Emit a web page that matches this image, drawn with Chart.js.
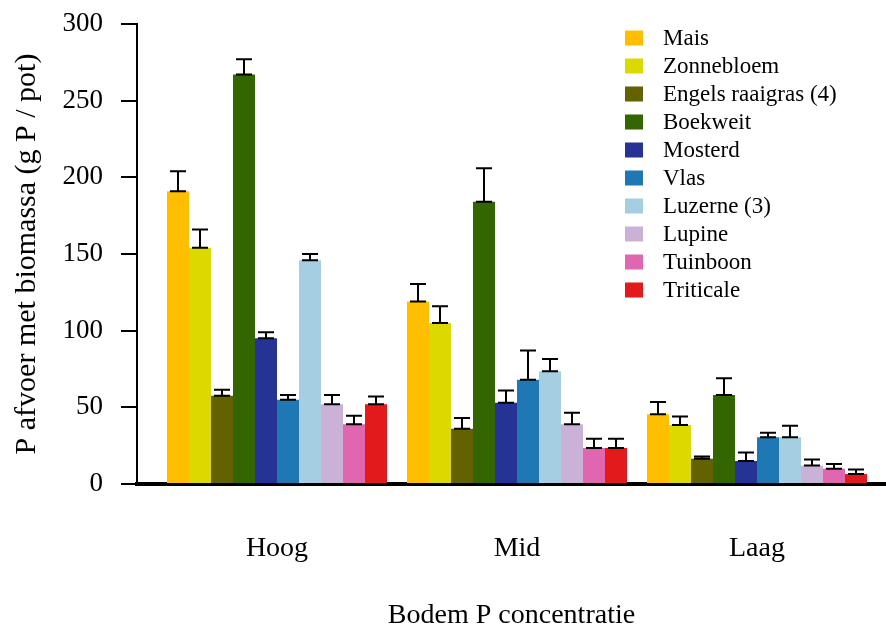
<!DOCTYPE html>
<html>
<head>
<meta charset="utf-8">
<script src="https://cdn.jsdelivr.net/npm/chart.js@4.4.1/dist/chart.umd.min.js"></script>
<style>
  html, body { margin: 0; padding: 0; background: #fff; }
  canvas { display: block; }
</style>
</head>
<body>
<canvas id="myChart" width="886" height="628"></canvas>
<script>
const categories = ["Hoog", "Mid", "Laag"];
const seriesNames = ["Mais", "Zonnebloem", "Engels raaigras (4)", "Boekweit", "Mosterd",
  "Vlas", "Luzerne (3)", "Lupine", "Tuinboon", "Triticale"];

// waarden per bodem P niveau, zelfde volgorde als seriesNames
const hoogValues = [191, 154, 57.5, 267, 95, 55, 146, 52, 39, 52];
const hoogErrors = [13, 12, 4, 10, 4, 3, 4, 6, 5.5, 5];
const midValues = [119, 105, 36, 184, 53, 68, 73.5, 39, 23.5, 23.5];
const midErrors = [11.5, 11, 7, 22, 8, 19, 8, 7.5, 6, 6];
const laagValues = [45.5, 38.5, 16.5, 58, 15, 30.5, 30.5, 12, 10, 6.5];
const laagErrors = [8, 5.5, 1.5, 11, 5.5, 3, 7.5, 4, 3, 3];

const yTicks = [0, 50, 100, 150, 200, 250, 300];

const seriesColors = ["#FFBF00", "#DBD900", "#626200", "#336600", "#253494",
  "#1F78B4", "#A6CEE3", "#CAB2D6", "#E066B0", "#E31A1C"];

const fontFamily = "'Liberation Serif', 'Times New Roman', serif";
Chart.defaults.color = "#000";
Chart.defaults.font.family = fontFamily;

const datasets = seriesNames.map((name, i) => {
  const vals = [hoogValues[i], midValues[i], laagValues[i]];
  return {
    label: name,
    backgroundColor: seriesColors[i],
    borderWidth: 0,
    data: vals.map((v, k) => ({ x: k, y: v })),
    errors: [hoogErrors[i], midErrors[i], laagErrors[i]],
  };
});

// foutbalken boven de staven
const errorBars = {
  id: "errorBars",
  afterDatasetsDraw(chart) {
    const ctx = chart.ctx;
    const yScale = chart.scales.y;
    ctx.save();
    ctx.strokeStyle = "#000";
    ctx.lineWidth = 2;
    chart.data.datasets.forEach((ds, i) => {
      const meta = chart.getDatasetMeta(i);
      meta.data.forEach((bar, j) => {
        const top = yScale.getPixelForValue(ds.data[j].y + ds.errors[j]);
        const half = 8;
        ctx.beginPath();
        ctx.moveTo(bar.x, bar.y);
        ctx.lineTo(bar.x, top);
        ctx.moveTo(bar.x - half, top);
        ctx.lineTo(bar.x + half, top);
        ctx.moveTo(bar.x - half, bar.y);
        ctx.lineTo(bar.x + half, bar.y);
        ctx.stroke();
      });
    });
    ctx.restore();
  },
};

// legenda rechtsboven in de grafiek
const sideLegend = {
  id: "sideLegend",
  afterDraw(chart) {
    const ctx = chart.ctx;
    const boxX = 625, textX = 663, startY = 38, rowH = 28;
    ctx.save();
    ctx.font = "23px " + fontFamily;
    ctx.textBaseline = "middle";
    ctx.textAlign = "left";
    chart.data.datasets.forEach((ds, i) => {
      const cy = startY + i * rowH;
      ctx.fillStyle = ds.backgroundColor;
      ctx.fillRect(boxX, cy - 7.5, 18, 15);
      ctx.fillStyle = "#000";
      ctx.fillText(ds.label, textX, cy + 1);
    });
    ctx.restore();
  },
};

const ctx = document.getElementById("myChart").getContext("2d");
const myChart = new Chart(ctx, {
  type: "bar",
  data: { datasets: datasets },
  plugins: [errorBars, sideLegend],
  options: {
    responsive: false,
    animation: false,
    devicePixelRatio: 1,
    categoryPercentage: 220 / 240,
    barPercentage: 1,
    layout: { padding: { top: 24, right: 0, bottom: 0, left: 0 } },
    plugins: {
      legend: { display: false },
      tooltip: { enabled: false },
    },
    scales: {
      x: {
        type: "linear",
        offset: false,
        min: -140 / 240,
        max: 609 / 240,
        afterFit: (scale) => {
          scale.height = 144;
          scale.paddingLeft = 0;
          scale.paddingRight = 0;
        },
        grid: { display: false, drawTicks: false },
        border: { display: true, color: "#000", width: 4 },
        ticks: {
          stepSize: 1,
          includeBounds: false,
          maxRotation: 0,
          autoSkip: false,
          padding: 51,
          font: { size: 28, lineHeight: 1 },
          callback: (v) => categories[v] ?? "",
        },
        title: {
          display: true,
          text: "Bodem P concentratie",
          font: { size: 28, lineHeight: 1 },
          padding: { top: 0, bottom: -2 },
        },
      },
      y: {
        min: 0,
        max: 300,
        afterFit: (scale) => {
          scale.width = 137;
          scale.paddingTop = 0;
          scale.paddingBottom = 0;
        },
        afterBuildTicks: (scale) => { scale.ticks = yTicks.map((v) => ({ value: v })); },
        grid: {
          drawOnChartArea: false,
          drawTicks: true,
          tickLength: 16,
          color: "#000",
          lineWidth: 2,
        },
        border: { display: true, color: "#000", width: 2 },
        ticks: {
          padding: 18,
          font: { size: 27, lineHeight: 1 },
        },
        title: {
          display: true,
          text: "P afvoer met biomassa (g P / pot)",
          font: { size: 30, lineHeight: 1 },
          padding: { top: 12, bottom: 0 },
        },
      },
    },
  },
});
</script>
</body>
</html>
